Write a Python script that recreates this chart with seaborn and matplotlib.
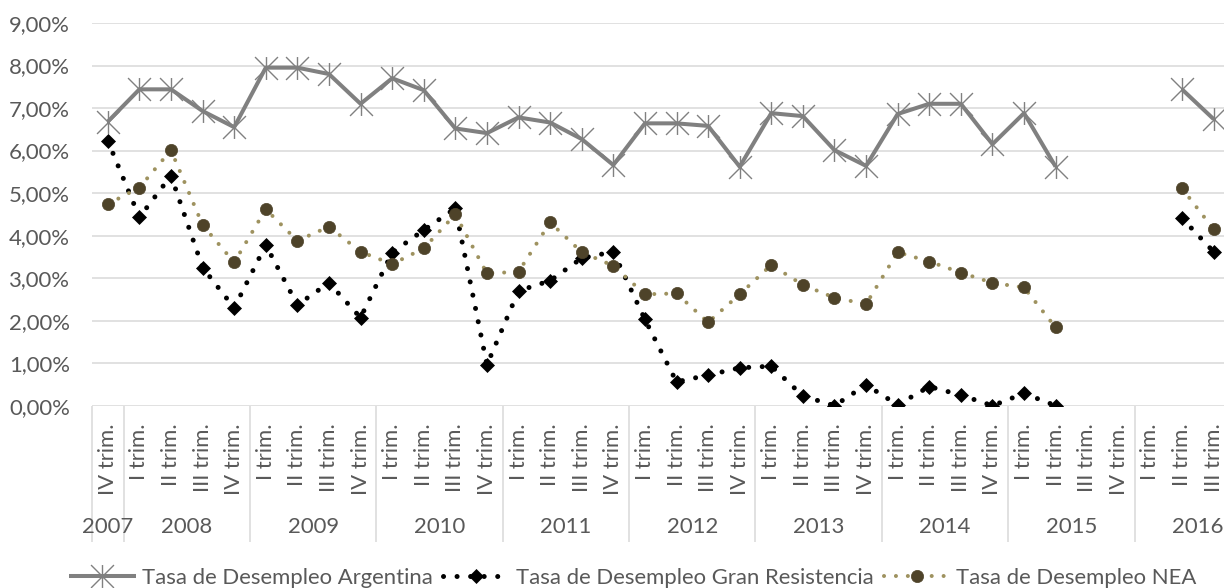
import numpy as np
import pandas as pd
import matplotlib
matplotlib.use("Agg")
import matplotlib.pyplot as plt
import seaborn as sns
from matplotlib.ticker import FuncFormatter, FixedLocator
from matplotlib.path import Path
from matplotlib.transforms import blended_transform_factory

nan = np.nan

# ---------------- data ----------------
years = ["2007", "2008", "2009", "2010", "2011", "2012", "2013", "2014", "2015", "2016"]
quarters_per_year = [["IV trim."]] + [["I trim.", "II trim.", "III trim.", "IV trim."]] * 9
quarter_labels = [q for qs in quarters_per_year for q in qs]

argentina = [6.68, 7.44, 7.44, 6.93, 6.55, 7.95, 7.95, 7.80, 7.10, 7.70,
             7.42, 6.52, 6.41, 6.78, 6.66, 6.27, 5.66, 6.64, 6.64, 6.58,
             5.62, 6.88, 6.81, 6.01, 5.64, 6.86, 7.10, 7.10, 6.15, 6.88,
             5.62, nan, nan, nan, 7.44, 6.74, nan]
gran_resistencia = [6.23, 4.43, 5.41, 3.25, 2.30, 3.78, 2.37, 2.89, 2.07, 3.60,
                    4.13, 4.64, 0.96, 2.70, 2.94, 3.47, 3.62, 2.03, 0.56, 0.72,
                    0.89, 0.93, 0.23, 0.00, 0.49, 0.02, 0.45, 0.25, 0.00, 0.29,
                    0.00, nan, nan, nan, 4.41, 3.62, nan]
nea = [4.74, 5.13, 6.01, 4.25, 3.37, 4.62, 3.88, 4.21, 3.62, 3.33,
       3.70, 4.50, 3.11, 3.15, 4.31, 3.61, 3.29, 2.62, 2.64, 1.96,
       2.62, 3.31, 2.84, 2.54, 2.39, 3.61, 3.39, 3.13, 2.89, 2.78,
       1.84, nan, nan, nan, 5.11, 4.15, nan]

series_names = ["Tasa de Desempleo Argentina",
                "Tasa de Desempleo Gran Resistencia",
                "Tasa de Desempleo NEA"]

df = pd.DataFrame({
    "pos": np.arange(len(quarter_labels)),
    series_names[0]: argentina,
    series_names[1]: gran_resistencia,
    series_names[2]: nea,
})

# ---------------- style ----------------
sns.set_style("white")
plt.rcParams["font.family"] = ["Lato", "DejaVu Sans"]
TXT = "#595959"
GRID = "#D9D9D9"
FS = 15.9

star = Path([(-1, -1), (1, 1), (-1, 1), (1, -1), (0, -1), (0, 1)],
            [Path.MOVETO, Path.LINETO, Path.MOVETO, Path.LINETO, Path.MOVETO, Path.LINETO])

styles = {
    series_names[0]: dict(color="#808080", linewidth=2.9, linestyle="-",
                          solid_joinstyle="round", solid_capstyle="butt",
                          marker=star, markersize=16.5, markerfacecolor="none",
                          markeredgecolor="#808080", markeredgewidth=1.0),
    series_names[1]: dict(color="black", linewidth=3.6, linestyle=(0, (0.01, 2.7)),
                          dash_capstyle="round",
                          marker="D", markersize=7.0, markerfacecolor="black",
                          markeredgecolor="black", markeredgewidth=0.5),
    series_names[2]: dict(color="#9E925F", linewidth=2.9, linestyle=(0, (0.01, 2.95)),
                          dash_capstyle="round",
                          marker="o", markersize=8.8, markerfacecolor="#4E4329",
                          markeredgecolor="#4E4329", markeredgewidth=0.5),
}

W, H = 1224, 588
fig = plt.figure(figsize=(W / 100, H / 100), dpi=100)
ax = fig.add_axes([92 / W, 1 - 405.7 / H, (1261 - 92) / W, (405.7 - 23) / H])

for name in series_names:
    vals = df[name].to_numpy()
    valid = ~np.isnan(vals)
    run_id = np.cumsum(np.concatenate([[True], valid[1:] != valid[:-1]]))
    first = True
    for rid in np.unique(run_id[valid]):
        seg = df[(run_id == rid) & valid]
        sns.lineplot(data=seg, x="pos", y=name, ax=ax, errorbar=None, sort=False,
                     legend=False, label=name if first else "_nolegend_",
                     **styles[name])
        first = False

# ---------------- axes ----------------
ax.set_xlim(-0.5, len(quarter_labels) - 0.5)
ax.set_ylim(0, 9)
ax.set_yticks(np.arange(0, 10, 1))
ax.yaxis.set_major_formatter(FuncFormatter(lambda v, _: f"{v:.2f}%".replace(".", ",")))
ax.set_xlabel("")
ax.set_ylabel("")
for s in ax.spines.values():
    s.set_visible(False)
ax.set_axisbelow(True)
ax.yaxis.grid(True, color=GRID, linewidth=1.1)
ax.xaxis.grid(False)

ax.set_xticks(np.arange(len(quarter_labels)))
ax.set_xticklabels(quarter_labels, rotation=90, fontsize=FS, color=TXT)
ax.tick_params(axis="x", which="major", length=0, pad=12.5)
ax.tick_params(axis="y", length=0, pad=16, labelsize=FS, labelcolor=TXT)
# the last category (2016 IV trim.) lies beyond the cropped right edge
ax.get_xticklabels()[-1].set_visible(False)

# year group boundaries as long minor ticks
sizes = [len(q) for q in quarters_per_year]
bounds = np.concatenate([[0], np.cumsum(sizes)]) - 0.5
ax.xaxis.set_minor_locator(FixedLocator(bounds))
ax.tick_params(axis="x", which="minor", bottom=True, length=98, width=1.1,
               color=GRID, direction="out")

# year labels
trans = blended_transform_factory(ax.transData, fig.transFigure)
for y, lo, hi in zip(years, bounds[:-1], bounds[1:]):
    ax.text((lo + hi) / 2, 1 - 527 / H, y, transform=trans, ha="center", va="center",
            fontsize=FS, color=TXT)

handles, labels = ax.get_legend_handles_labels()
leg = fig.legend(handles, labels, loc="center", bbox_to_anchor=(633 / W, 1 - 578 / H),
                 ncol=3, frameon=False, fontsize=FS, handlelength=3.0,
                 handletextpad=0.3, columnspacing=0.45, borderaxespad=0)
for t in leg.get_texts():
    t.set_color(TXT)

fig.savefig("out.png", dpi=100)
